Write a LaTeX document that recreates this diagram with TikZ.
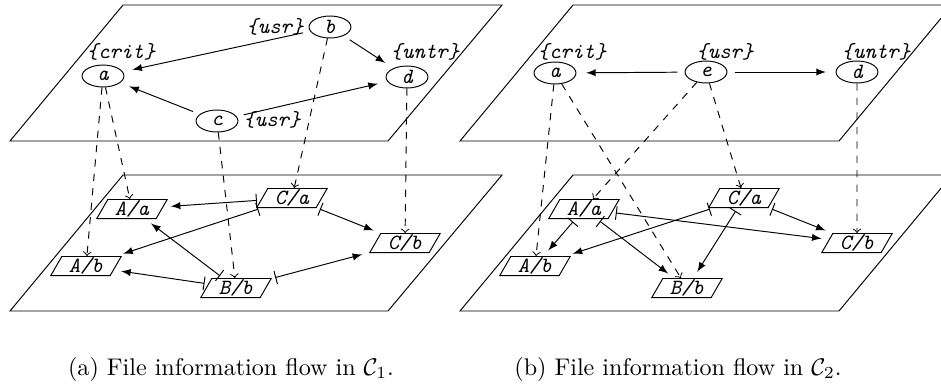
\documentclass[tikz,border=0pt]{standalone}
\usetikzlibrary{shapes.geometric}

\begin{document}
\begin{tikzpicture}[x=0.415pt,y=-0.415pt,font=\small\ttfamily\itshape,
  st/.style={draw,ellipse,minimum width=17.4pt,minimum height=9.1pt,inner sep=0pt},
  fl/.style={draw,trapezium,trapezium left angle=60,trapezium right angle=120,minimum height=7.9pt,inner xsep=1.8pt,inner ysep=0pt},
  lbl/.style={inner sep=0pt},
  proj/.style={dashed,->},
  lift/.style={-latex,shorten <=3pt,shorten >=4pt},
  flow/.style={|-latex,shorten <=1.5pt,shorten >=3pt},
  subcap/.style={font=\normalsize\rmfamily\upshape,anchor=base,inner sep=0pt}]
\useasboundingbox (0,0) rectangle (941,383);
\draw (10,141) -- (123,5) -- (502,5) -- (388,141) -- cycle;
\draw (10,311) -- (123,175) -- (502,175) -- (388,311) -- cycle;
\draw (460,141) -- (573,5) -- (952,5) -- (839,141) -- cycle;
\draw (460,311) -- (573,175) -- (952,175) -- (839,311) -- cycle;
\node[st] (a1) at (103,76) {a};
\node[st] (b1) at (330,27) {b};
\node[st] (c1) at (217,121) {c};
\node[st] (d1) at (407,77) {d};
\node[lbl] (crit1) at (121,52) {\{crit\}};
\node[lbl] (usrb1) at (275,27) {\{usr\}};
\node[lbl] (usrc1) at (272,120) {\{usr\}};
\node[lbl] (untr1) at (425,52) {\{untr\}};
\node[fl] (Aa1) at (132,209) {A/a};
\node[fl] (Ca1) at (292,198) {C/a};
\node[fl] (Cb1) at (405,243) {C/b};
\node[fl] (Ab1) at (86,266) {A/b};
\node[fl] (Bb1) at (236,288) {B/b};
\draw[lift] (b1) -- (a1);
\draw[lift] (b1) -- (d1);
\draw[lift] (c1) -- (a1);
\draw[lift] (c1) -- (d1);
\draw[proj] (a1) -- (Aa1);
\draw[proj] (a1) -- (Ab1);
\draw[proj] (b1) -- (Ca1);
\draw[proj] (c1) -- (Bb1);
\draw[proj] (d1) -- (Cb1);
\draw[flow] (Ca1) -- (Aa1);
\draw[flow] (Ca1) -- (Ab1);
\draw[flow] (Ca1) -- (Cb1);
\draw[flow] (Bb1) -- (Aa1);
\draw[flow] (Bb1) -- (Ab1);
\draw[flow] (Bb1) -- (Cb1);
\node[st] (a2) at (555,73) {a};
\node[st] (e2) at (706,72) {e};
\node[st] (d2) at (857,72) {d};
\node[lbl] (crit2) at (572,52) {\{crit\}};
\node[lbl] (usr2) at (725,52) {\{usr\}};
\node[lbl] (untr2) at (876,52) {\{untr\}};
\node[fl] (Aa2) at (584,209) {A/a};
\node[fl] (Ca2) at (744,198) {C/a};
\node[fl] (Cb2) at (857,243) {C/b};
\node[fl] (Ab2) at (535,266) {A/b};
\node[fl] (Bb2) at (687,288) {B/b};
\draw[lift] (e2) -- (a2);
\draw[lift] (e2) -- (d2);
\draw[proj] (a2) -- (Ab2);
\draw[proj] (a2) -- (Bb2);
\draw[proj] (e2) -- (Aa2);
\draw[proj] (e2) -- (Ca2);
\draw[proj] (d2) -- (Cb2);
\draw[flow] (Aa2) -- (Ab2);
\draw[flow] (Aa2) -- (Bb2);
\draw[flow] (Aa2) -- (Cb2);
\draw[flow] (Ca2) -- (Ab2);
\draw[flow] (Ca2) -- (Bb2);
\draw[flow] (Ca2) -- (Cb2);
\node[subcap] (capa) at (231,375) {(a) File information flow in $\mathcal{C}_1$.};
\node[subcap] (capb) at (678,375) {(b) File information flow in $\mathcal{C}_2$.};
\end{tikzpicture}
\end{document}
